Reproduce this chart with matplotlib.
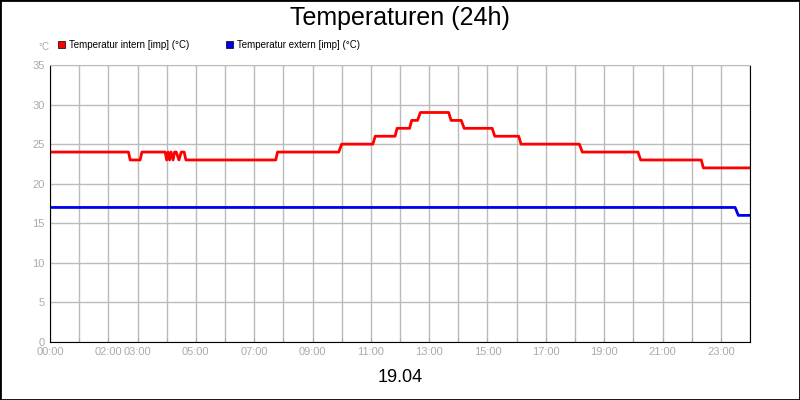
import matplotlib
matplotlib.use("Agg")
import matplotlib.pyplot as plt
from matplotlib.patches import Rectangle

plt.rcParams['font.family'] = ['Liberation Sans', 'DejaVu Sans']

intern_t = [0, 2.69, 2.75, 3.09, 3.15, 3.95, 4.0, 4.05, 4.1, 4.15, 4.22, 4.27, 4.33, 4.42, 4.5, 4.6, 4.66,
            7.74, 7.8, 9.9, 10.0, 11.07, 11.15, 11.83, 11.9, 12.33, 12.4, 12.6, 12.7, 13.67, 13.75, 14.1, 14.2,
            15.16, 15.25, 16.07, 16.15, 18.15, 18.25, 20.16, 20.25, 22.33, 22.4, 24.0]
intern_v = [24, 24, 23, 23, 24, 24, 23, 24, 23, 24, 23, 24, 24, 23, 24, 24, 23,
            23, 24, 24, 25, 25, 26, 26, 27, 27, 28, 28, 29, 29, 28, 28, 27,
            27, 26, 26, 25, 25, 24, 24, 23, 23, 22, 22]
extern_t = [0, 23.49, 23.6, 24.0]
extern_v = [17, 17, 16, 16]
xtick_pos = list(range(0, 25))
xtick_labels = {0: "00:00", 2: "02:00", 3: "03:00", 5: "05:00", 7: "07:00", 9: "09:00", 11: "11:00",
                13: "13:00", 15: "15:00", 17: "17:00", 19: "19:00", 21: "21:00", 23: "23:00"}

fig = plt.figure(figsize=(8, 4), dpi=100)
fig.patches.append(Rectangle((0, 0), 1, 1, transform=fig.transFigure, fill=False,
                             edgecolor="black", linewidth=2))
ax = fig.add_axes([50/800, 58/400, 700/800, 277/400])
ax.plot(intern_t, intern_v, color="#ff0000", lw=2)
ax.plot(extern_t, extern_v, color="#0000ee", lw=2)
ax.set_xlim(0, 24)
ax.set_ylim(0, 35)
ax.set_yticks(range(0, 36, 5))
ax.set_xticks(xtick_pos)
ax.set_xticklabels([xtick_labels.get(h, "") for h in xtick_pos])
ax.grid(True, color="#bbbbbb", lw=1)
ax.tick_params(colors="#aaaaaa", labelsize=8, length=3, labelcolor="#aaaaaa")
ax.tick_params(axis="x", direction="in")
ax.tick_params(axis="y", length=0, pad=4)
ax.spines["left"].set_color("black")
ax.spines["bottom"].set_color("black")
ax.spines["right"].set_color("black")
ax.spines["top"].set_color("#bbbbbb")
fig.text(0.5, 0.955, "Temperaturen (24h)", ha="center", va="center", fontsize=18)
fig.text(38/800, 1 - 47/400, "°C", fontsize=7, color="#aaaaaa", va="center")
fig.text(0.5, 1 - 378/400, "19.04", ha="center", va="center", fontsize=13)
fig.patches.append(Rectangle((58/800, 1 - 48/400), 7/800, 7/400, transform=fig.transFigure,
                             facecolor="#ff0000", edgecolor="black", lw=0.5))
fig.text(69/800, 1 - 44.5/400, "Temperatur intern [imp] (°C)", fontsize=7, va="center")
fig.patches.append(Rectangle((226/800, 1 - 48/400), 7/800, 7/400, transform=fig.transFigure,
                             facecolor="#0000ee", edgecolor="black", lw=0.5))
fig.text(237/800, 1 - 44.5/400, "Temperatur extern [imp] (°C)", fontsize=7, va="center")
fig.savefig("out.png", dpi=100)
